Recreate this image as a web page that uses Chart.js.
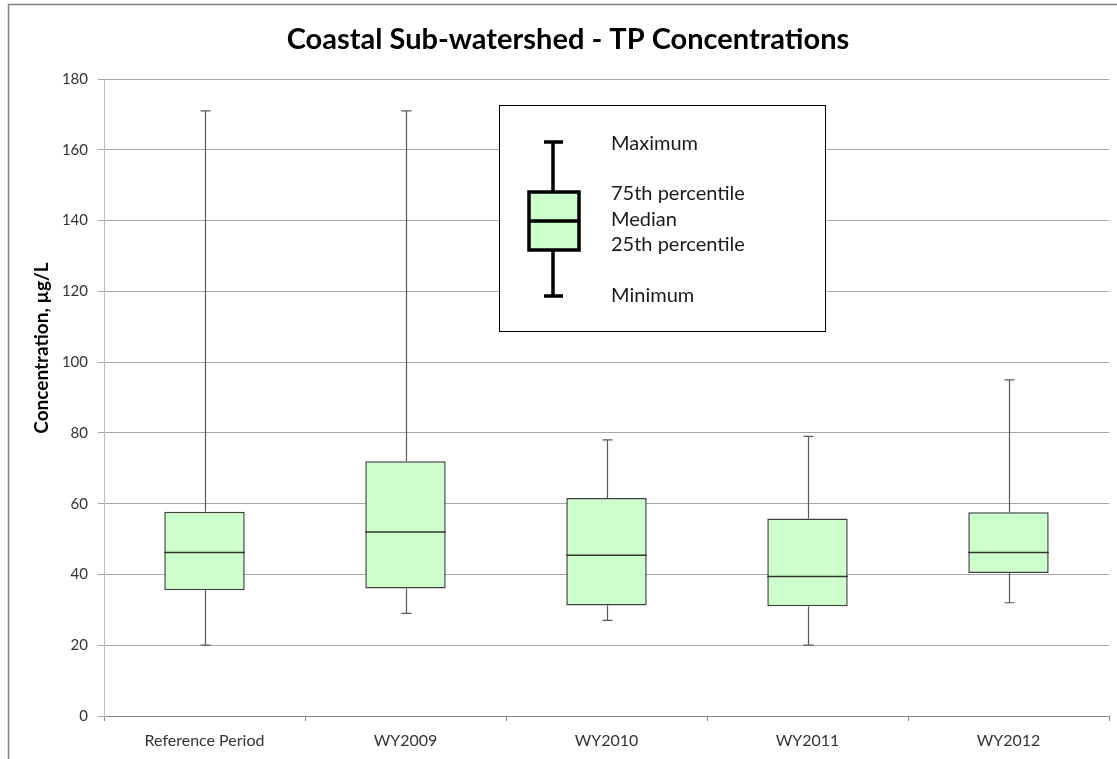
<!DOCTYPE html>
<html>
<head>
<meta charset="utf-8">
<script src="https://cdn.jsdelivr.net/npm/chart.js@4"></script>
<style>
  html, body { margin: 0; padding: 0; background: #fff; }
  #wrap { width: 1117px; height: 759px; position: relative; }
</style>
</head>
<body>
<div id="wrap"><canvas id="boxChart"></canvas></div>
<script>
// --- Data ---
const categories = ['Reference Period', 'WY2009', 'WY2010', 'WY2011', 'WY2012'];
const minimum = [20, 29, 27, 20, 32];
const q1 = [35.5, 36, 31.2, 31, 40.4];
const median = [46.2, 52, 45.4, 39.4, 46.2];
const q3 = [57.7, 72, 61.6, 55.8, 57.6];
const maximum = [171, 171, 78, 79, 95];
const yTicks = [0, 20, 40, 60, 80, 100, 120, 140, 160, 180];
const legendLabels = ['Maximum', '75th percentile', 'Median', '25th percentile', 'Minimum'];

const FONT = 'Lato, "Open Sans", sans-serif';
const BOX_FILL = '#ccffcc';

// --- Plugins ---
const frame = {
  id: 'frame',
  beforeDraw(chart) {
    const ctx = chart.ctx;
    ctx.save();
    ctx.strokeStyle = '#7f7f7f';
    ctx.lineWidth = 1.5;
    ctx.strokeRect(8.5, 4.5, chart.width + 20, chart.height + 20);
    // title
    ctx.fillStyle = '#000';
    ctx.font = 'bold 29px ' + FONT;
    ctx.textAlign = 'center';
    ctx.textBaseline = 'middle';
    ctx.fillText('Coastal Sub-watershed - TP Concentrations', 568, 40);
    // y title
    ctx.translate(42, 348);
    ctx.rotate(-Math.PI / 2);
    ctx.font = 'bold 19px ' + FONT;
    ctx.fillText('Concentration, µg/L', 0, 0);
    ctx.restore();
  }
};

const whiskers = {
  id: 'whiskers',
  afterDatasetsDraw(chart) {
    const ctx = chart.ctx;
    const y = chart.scales.y;
    const meta = chart.getDatasetMeta(0);
    ctx.save();
    meta.data.forEach((bar, i) => {
      const x = Math.round(bar.x) + 0.5;
      const half = bar.width / 2;
      const yMin = y.getPixelForValue(minimum[i]);
      const yQ1 = y.getPixelForValue(q1[i]);
      const yQ3 = y.getPixelForValue(q3[i]);
      const yMax = y.getPixelForValue(maximum[i]);
      const yMed = y.getPixelForValue(median[i]);
      ctx.strokeStyle = '#595959';
      ctx.lineWidth = 1.2;
      ctx.beginPath();
      ctx.moveTo(x, yQ3); ctx.lineTo(x, yMax);
      ctx.moveTo(x - 5, yMax); ctx.lineTo(x + 5, yMax);
      ctx.moveTo(x, yQ1); ctx.lineTo(x, yMin);
      ctx.moveTo(x - 5, yMin); ctx.lineTo(x + 5, yMin);
      ctx.stroke();
      ctx.strokeStyle = '#333';
      ctx.lineWidth = 1.5;
      ctx.beginPath();
      ctx.moveTo(bar.x - half, yMed); ctx.lineTo(bar.x + half, yMed);
      ctx.stroke();
    });
    ctx.restore();
  }
};

const boxLegend = {
  id: 'boxLegend',
  afterDraw(chart) {
    const ctx = chart.ctx;
    const lx = 499, ly = 105, lw = 326, lh = 226;
    ctx.save();
    ctx.fillStyle = '#fff';
    ctx.fillRect(lx, ly, lw, lh);
    ctx.strokeStyle = '#000';
    ctx.lineWidth = 1;
    ctx.strokeRect(lx + 0.5, ly + 0.5, lw, lh);
    // glyph
    const cx = 553;
    ctx.lineWidth = 3.5;
    ctx.fillStyle = BOX_FILL;
    ctx.fillRect(529, 192, 50, 58);
    ctx.strokeRect(529, 192, 50, 58);
    ctx.beginPath();
    ctx.moveTo(cx, 142); ctx.lineTo(cx, 192);
    ctx.moveTo(544, 142); ctx.lineTo(563, 142);
    ctx.moveTo(cx, 250); ctx.lineTo(cx, 296);
    ctx.moveTo(544, 296); ctx.lineTo(563, 296);
    ctx.moveTo(529, 221); ctx.lineTo(579, 221);
    ctx.stroke();
    // labels
    ctx.fillStyle = '#1a1a1a';
    ctx.font = '20px ' + FONT;
    ctx.textAlign = 'left';
    ctx.textBaseline = 'middle';
    const ys = [144, 194, 220, 245, 296];
    legendLabels.forEach((t, i) => ctx.fillText(t, 611, ys[i]));
    ctx.restore();
  }
};

// --- Chart ---
const ctx = document.getElementById('boxChart').getContext('2d');
new Chart(ctx, {
  type: 'bar',
  data: {
    labels: categories,
    datasets: [{
      label: 'IQR',
      data: q1.map((v, i) => [v, q3[i]]),
      backgroundColor: BOX_FILL,
      borderColor: '#404040',
      borderWidth: 1.5,
      borderSkipped: false,
      barPercentage: 0.4,
      categoryPercentage: 1.0
    }]
  },
  options: {
    responsive: true,
    maintainAspectRatio: false,
    animation: false,
    layout: { padding: { left: 0, top: 79, right: 8, bottom: 0 } },
    plugins: {
      legend: { display: false },
      title: { display: false },
      tooltip: { enabled: false }
    },
    scales: {
      x: {
        offset: true,
        afterFit(scale) { scale.height = 43; },
        grid: { offset: true, drawOnChartArea: false, drawTicks: true, tickLength: 5, color: '#888' },
        border: { color: '#888', width: 1 },
        ticks: { color: '#333', font: { family: FONT, size: 16 }, padding: 10 }
      },
      y: {
        min: 0,
        max: 180,
        afterFit(scale) { scale.width = 104; },
        afterBuildTicks(scale) { scale.ticks = yTicks.map(v => ({ value: v })); },
        grid: { color: '#a6a6a6', lineWidth: 1, tickLength: 6 },
        border: { color: '#c0c0c0', width: 1 },
        ticks: { color: '#333', font: { family: FONT, size: 15 }, padding: 10 }
      }
    }
  },
  plugins: [frame, whiskers, boxLegend]
});
</script>
</body>
</html>
